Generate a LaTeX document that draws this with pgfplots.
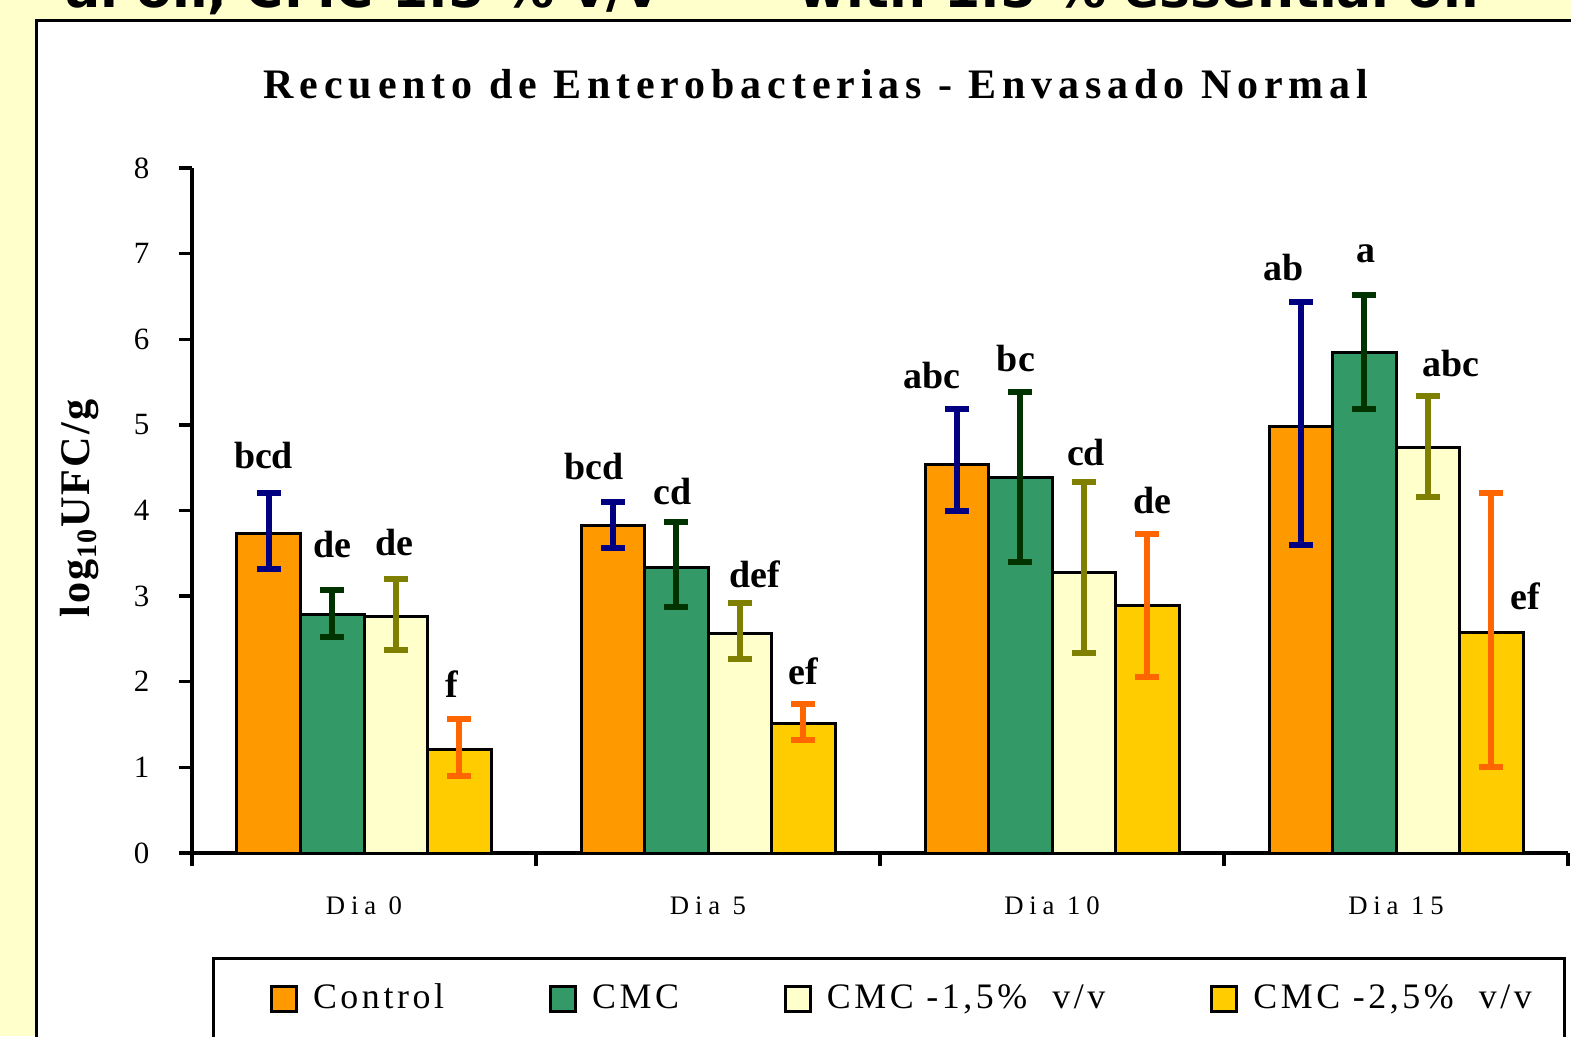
\documentclass[border=0pt]{standalone}
\usepackage{fontspec}
\setmainfont{Liberation Serif}
\newfontfamily\titlefont[LetterSpace=14]{Liberation Serif}
\newfontfamily\ylabfont[LetterSpace=5]{Liberation Serif}
\newfontfamily\legfont[LetterSpace=10]{Liberation Serif}
\newfontfamily\xfont[LetterSpace=22]{Liberation Serif}
\newfontfamily\topfont{DejaVu Sans}
\usepackage{pgfplots}
\pgfplotsset{compat=1.18}
\definecolor{bgy}{HTML}{FFFFCC}
\definecolor{cOrange}{HTML}{FF9900}
\definecolor{cGreen}{HTML}{339966}
\definecolor{cPale}{HTML}{FFFFCC}
\definecolor{cGold}{HTML}{FFCC00}
\definecolor{eNavy}{HTML}{000080}
\definecolor{eDGreen}{HTML}{003300}
\definecolor{eOlive}{HTML}{808000}
\definecolor{eOrange}{HTML}{FF6600}
\begin{document}
\begin{tikzpicture}[x=1cm,y=1cm]
\useasboundingbox (0,0) rectangle (15.71,10.36);
\clip (0,0) rectangle (15.71,10.36);
\fill[bgy] (0,0) rectangle (15.71,10.36);
\node[font=\topfont\bfseries\fontsize{14.8}{16}\selectfont, anchor=base east, inner sep=0pt] at (6.60,10.28) {al oil, CMC 1.5 \% v/v};
\node[font=\topfont\bfseries\fontsize{14.8}{16}\selectfont, anchor=base east, inner sep=0pt] at (14.80,10.28) {with 1.5 \% essential oil};
\draw[fill=white, line width=0.035cm] (0.365,-1) rectangle (16.5,10.155);
\draw[line width=0.03cm] (2.13,-1) rectangle (15.64,0.78);
\node[font=\titlefont\bfseries\fontsize{11.95}{14}\selectfont, anchor=base, inner sep=0pt] at (8.16,9.37) {Recuento de Enterobacterias - Envasado Normal};
\begin{axis}[
  at={(1.92cm,1.83cm)}, anchor=south west,
  scale only axis, width=13.76cm, height=6.85cm,
  xmin=-0.5, xmax=3.5, ymin=0, ymax=8,
  clip=false,
  axis x line=bottom, axis y line=left,
  axis line style={line width=0.033cm, -},
  tick align=outside,
  tick style={line width=0.033cm, black},
  major tick length=0.13cm, minor tick length=0.13cm,
  ytick={0,1,2,3,4,5,6,7,8},
  xtick={0,1,2,3},
  xticklabels={Dia 0,Dia 5,Dia 10,Dia 15},
  major x tick style={draw=none},
  minor xtick={-0.5,0.5,1.5,2.5,3.5},
  /pgf/number format/assume math mode=true,
  yticklabel style={font=\fontsize{8.8}{10}\selectfont, anchor=east, inner sep=0pt, xshift=-0.29cm},
  xticklabel style={font=\xfont\fontsize{7.6}{9}\selectfont, anchor=center, inner sep=0pt, yshift=-0.40cm},
  ylabel={\ylabfont\bfseries log\textsubscript{10}UFC/g},
  ylabel style={at={(axis description cs:-0.0814,0.503)}, anchor=center, font=\fontsize{12}{14}\selectfont},
  ybar=0pt, bar width=0.635cm,
  legend columns=4,
  legend style={at={(axis description cs:0.0567,-0.2131)}, anchor=west, draw=none, fill=none, inner sep=0pt, outer sep=0pt,
    font=\legfont\fontsize{10.2}{12}\selectfont, /tikz/every even column/.append style={column sep=1.05cm}, nodes={inner sep=0pt}},
  legend image code/.code={\draw[#1,/tikz/.cd, line width=0.03cm, draw=black] (0cm,-0.125cm) rectangle (0.25cm,0.125cm); \path (0.40cm,0cm);},
]
\addplot[fill=cOrange, draw=black, line width=0.03cm,
  error bars/.cd, y dir=both, y explicit,
  error bar style={line width=0.06cm, color=eNavy},
  error mark options={rotate=90, line width=0.06cm, color=eNavy, mark size=0.12cm}]
  coordinates {(0,3.73) += (0,0.48) -= (0,0.41)
               (1,3.82) += (0,0.28) -= (0,0.26)
               (2,4.54) += (0,0.65) -= (0,0.54)
               (3,4.98) += (0,1.46) -= (0,1.38)};
\addlegendentry{Control}
\addplot[fill=cGreen, draw=black, line width=0.03cm,
  error bars/.cd, y dir=both, y explicit,
  error bar style={line width=0.06cm, color=eDGreen},
  error mark options={rotate=90, line width=0.06cm, color=eDGreen, mark size=0.12cm}]
  coordinates {(0,2.79) += (0,0.28) -= (0,0.27)
               (1,3.33) += (0,0.53) -= (0,0.46)
               (2,4.38) += (0,1.00) -= (0,0.98)
               (3,5.84) += (0,0.68) -= (0,0.66)};
\addlegendentry{CMC}
\addplot[fill=cPale, draw=black, line width=0.03cm,
  error bars/.cd, y dir=both, y explicit,
  error bar style={line width=0.06cm, color=eOlive},
  error mark options={rotate=90, line width=0.06cm, color=eOlive, mark size=0.12cm}]
  coordinates {(0,2.76) += (0,0.44) -= (0,0.39)
               (1,2.56) += (0,0.36) -= (0,0.29)
               (2,3.28) += (0,1.05) -= (0,0.94)
               (3,4.74) += (0,0.60) -= (0,0.58)};
\addlegendentry{CMC -1,5\%\ \ v/v}
\addplot[fill=cGold, draw=black, line width=0.03cm,
  error bars/.cd, y dir=both, y explicit,
  error bar style={line width=0.06cm, color=eOrange},
  error mark options={rotate=90, line width=0.06cm, color=eOrange, mark size=0.12cm}]
  coordinates {(0,1.21) += (0,0.36) -= (0,0.31)
               (1,1.51) += (0,0.23) -= (0,0.19)
               (2,2.89) += (0,0.83) -= (0,0.83)
               (3,2.57) += (0,1.64) -= (0,1.57)};
\addlegendentry{CMC -2,5\%\ \ v/v}
\begin{scope}[every node/.style={anchor=base, inner sep=0pt, font=\bfseries\fontsize{10.8}{12}\selectfont}]
\node at (axis cs:-0.292,4.486) {bcd};
\node at (axis cs:-0.092,3.446) {de};
\node at (axis cs:0.089,3.470) {de};
\node at (axis cs:0.256,1.811) {f};
\node at (axis cs:0.669,4.357) {bcd};
\node at (axis cs:0.898,4.065) {cd};
\node at (axis cs:1.137,3.096) {def};
\node at (axis cs:1.276,1.963) {ef};
\node at (axis cs:1.651,5.421) {abc};
\node at (axis cs:1.895,5.619) {bc};
\node at (axis cs:2.099,4.521) {cd};
\node at (axis cs:2.291,3.960) {de};
\node at (axis cs:2.674,6.682) {ab};
\node at (axis cs:2.913,6.893) {a};
\node at (axis cs:3.160,5.561) {abc};
\node at (axis cs:3.375,2.839) {ef};
\end{scope}
\end{axis}
\end{tikzpicture}
\end{document}
